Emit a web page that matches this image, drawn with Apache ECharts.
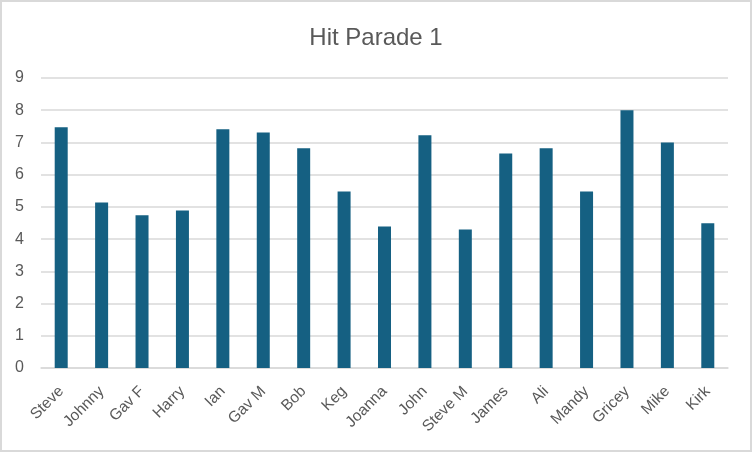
<!DOCTYPE html>
<html>
<head>
<meta charset="utf-8">
<script src="https://cdn.jsdelivr.net/npm/echarts@6/dist/echarts.min.js"></script>
<style>
html,body{margin:0;padding:0;background:#fff;}
#c{width:752px;height:452px;}
</style>
</head>
<body>
<div id="c"></div>
<script>
const titleText = "Hit Parade 1";
const categories = ["Steve","Johnny","Gav F","Harry","Ian","Gav M","Bob","Keg","Joanna","John","Steve M","James","Ali","Mandy","Gricey","Mike","Kirk"];
const values = [7.47, 5.14, 4.74, 4.89, 7.41, 7.31, 6.82, 5.48, 4.39, 7.22, 4.3, 6.66, 6.82, 5.48, 8.0, 7.0, 4.49];
const yTicks = {min: 0, max: 9, interval: 1};

const chart = echarts.init(document.getElementById('c'), null, {renderer: 'canvas'});
const font = '"Liberation Sans", Arial, sans-serif';
chart.setOption({
  animation: false,
  backgroundColor: '#ffffff',
  textStyle: {fontFamily: font},
  title: {
    text: titleText, left: 'center', top: 21,
    textStyle: {fontFamily: font, fontSize: 24, fontWeight: 'normal', color: '#595959'}
  },
  graphic: [{
    type: 'rect', silent: true,
    shape: {x: 1, y: 1, width: 750, height: 450},
    style: {fill: 'none', stroke: '#d9d9d9', lineWidth: 2}
  }],
  grid: {left: 41, right: 24, top: 78, bottom: 84, containLabel: false},
  xAxis: {
    type: 'category', data: categories,
    axisLine: {lineStyle: {color: '#d9d9d9', width: 1.5}},
    axisTick: {show: false},
    axisLabel: {rotate: 45, fontSize: 15.5, color: '#595959', margin: 21, interval: 0, fontFamily: font}
  },
  yAxis: {
    type: 'value', min: yTicks.min, max: yTicks.max, interval: yTicks.interval,
    axisLine: {show: false}, axisTick: {show: false},
    splitLine: {lineStyle: {color: '#d9d9d9', width: 1.5}},
    axisLabel: {fontSize: 16, color: '#595959', margin: 17, fontFamily: font}
  },
  series: [{
    type: 'bar', data: values, barWidth: 13,
    itemStyle: {color: '#156082'}
  }]
});
</script>
</body>
</html>
